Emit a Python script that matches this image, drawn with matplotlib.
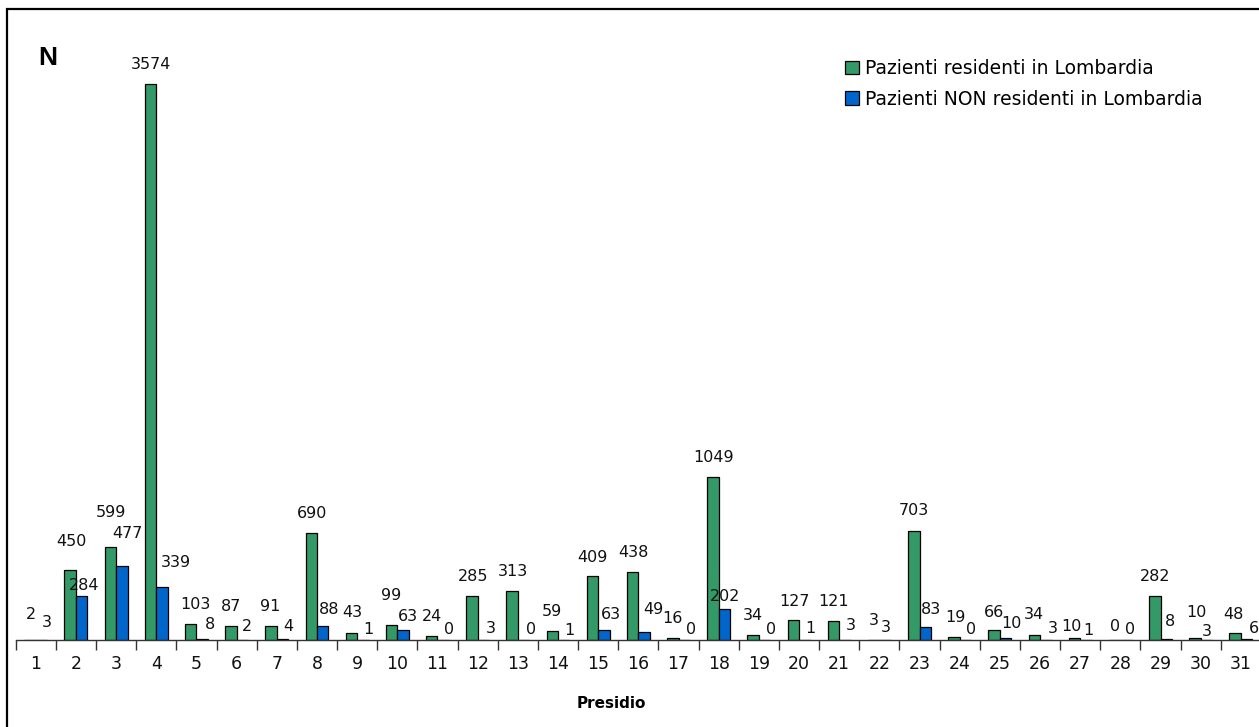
import matplotlib
matplotlib.use("Agg")
import matplotlib.pyplot as plt
from matplotlib.patches import Rectangle

plt.rcParams['font.family'] = ['DejaVu Sans']

# ---- data ----
presidi = [str(i) for i in range(1, 32)]
residenti = [2, 450, 599, 3574, 103, 87, 91, 690, 43, 99, 24, 285, 313, 59, 409,
             438, 16, 1049, 34, 127, 121, 3, 703, 19, 66, 34, 10, 0, 282, 10, 48]
non_residenti = [3, 284, 477, 339, 8, 2, 4, 88, 1, 63, 0, 3, 0, 1, 63,
                 49, 0, 202, 0, 1, 3, 3, 83, 0, 10, 3, 1, 0, 8, 3, 6]
serie_labels = ["Pazienti residenti in Lombardia",
                "Pazienti NON residenti in Lombardia"]

# label placement tweaks (pixels: horizontal shift, height of label centre above bar top)
off_res = [(1, 27), (1, 30), (1, 36), (0, 21), (5, 21), (0, 21), (-1, 21), (1, 21),
           (1, 22), (0, 31), (0, 21), (1, 21), (1, 21), (0, 21), (0, 20), (1, 21),
           (0, 21), (1, 21), (0, 21), (1, 20), (0, 21), (0, 21), (0, 22), (1, 21),
           (0, 19), (0, 22), (-3, 13), (0, 15), (0, 21), (1, 27), (-2, 20)]
off_non = [(5, 19), (2, 12), (6, 34), (14, 26), (8, 16), (5, 15), (6, 14), (6, 18),
           (5, 12), (5, 15), (6, 12), (7, 13), (7, 12), (6, 11), (7, 17), (9, 24),
           (7, 12), (1, 14), (6, 12), (6, 13), (6, 16), (1, 14), (6, 19), (6, 12),
           (6, 16), (7, 13), (2, 11), (4, 12), (4, 19), (0, 10), (7, 12)]

GREEN = "#339966"
BLUE = "#0066CC"

W, H = 1259, 727
fig = plt.figure(figsize=(W / 100, H / 100), dpi=100)
ax = fig.add_axes([15.7 / W, 87 / H, (1261 - 15.7) / W, 622 / H])

x = list(range(len(presidi)))
bw = 1 / 3.5
xg = [i - bw / 2 for i in x]
xb = [i + bw / 2 for i in x]
b1 = ax.bar(xg, residenti, width=bw, color=GREEN, edgecolor="black", linewidth=0.9,
            label=serie_labels[0], zorder=2)
b2 = ax.bar(xb, non_residenti, width=bw, color=BLUE, edgecolor="black", linewidth=0.9,
            label=serie_labels[1], zorder=2)

for xs, vals, offs in ((xg, residenti, off_res), (xb, non_residenti, off_non)):
    for xi, v, (dx, dy) in zip(xs, vals, offs):
        ax.annotate(str(v), xy=(xi, v), xytext=(dx, dy - 6), textcoords="offset pixels",
                    ha="center", va="baseline", fontsize=11.5, color="#111111",
                    annotation_clip=False)

ax.set_xlim(-0.5, 30.5)
ax.set_ylim(0, 4000)
for s in ("left", "right", "top"):
    ax.spines[s].set_visible(False)
ax.spines["bottom"].set_color("#333333")
ax.spines["bottom"].set_linewidth(1.0)
ax.set_yticks([])
ax.set_xticks(x)
ax.set_xticklabels(presidi, fontsize=12.5, color="#111111")
ax.set_xticks([i - 0.5 for i in range(len(presidi) + 1)], minor=True)
ax.tick_params(axis="x", which="major", length=0, pad=11)
ax.tick_params(axis="x", which="minor", length=7, width=1.0, color="#333333", direction="out")

fig.text(611 / W, 1 - 703 / H, "Presidio", ha="center", va="center",
         fontsize=11, fontweight="bold")
fig.text(48 / W, 1 - 58 / H, "N", ha="center", va="center", fontsize=19,
         fontweight="bold", family="Liberation Sans")

ax.legend(handles=[b1, b2], loc="upper left",
          bbox_to_anchor=(845 / W, 1 - 59 / H), bbox_transform=fig.transFigure,
          frameon=False, fontsize=13.5, handlelength=0.75, handleheight=0.75,
          handletextpad=0.3, labelspacing=0.62, borderpad=0, borderaxespad=0)

# outer chart frame
fig.patches.append(Rectangle((7 / W, -0.2), 1.5, 1 - 9 / H + 0.2, transform=fig.transFigure,
                             fill=False, edgecolor="black", linewidth=1.6))

fig.savefig("out.png", dpi=100)
